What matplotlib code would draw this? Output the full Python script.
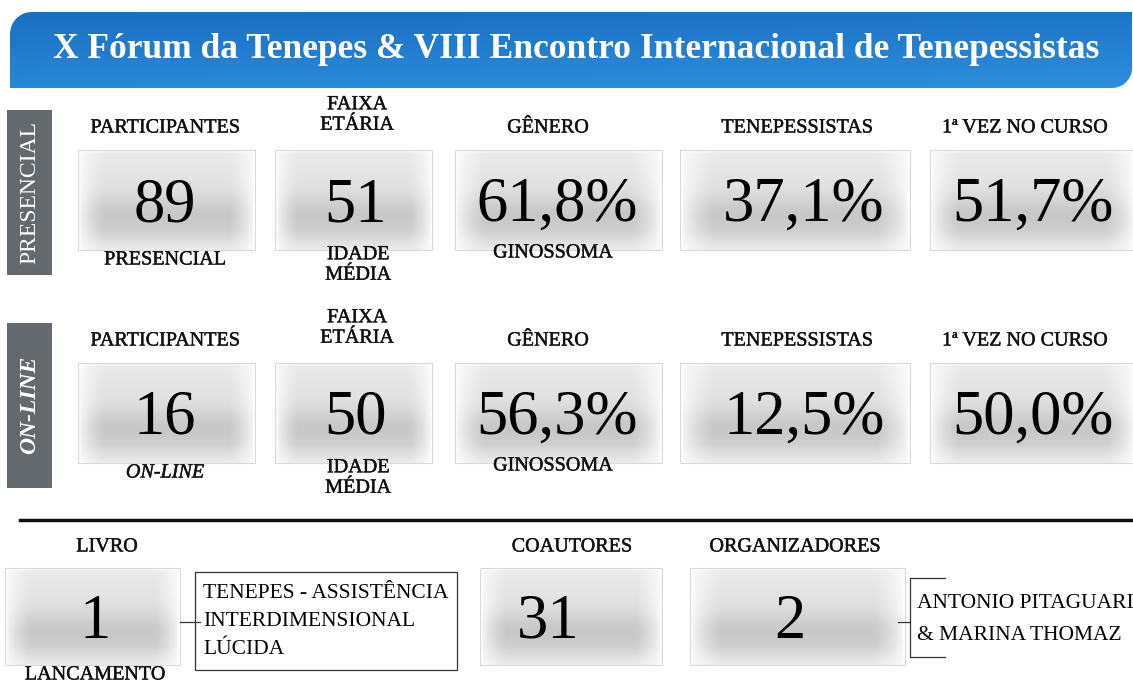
"""Infografico: X Forum da Tenepes & VIII Encontro Internacional de Tenepessistas."""
import numpy as np
import matplotlib.pyplot as plt
import matplotlib.patheffects as pe
from matplotlib.patches import Rectangle, PathPatch
from matplotlib.path import Path

# ---- dados ----
titulo = "X Fórum da Tenepes & VIII Encontro Internacional de Tenepessistas"
modalidades = ["PRESENCIAL", "ON-LINE"]
cabecalhos = ["PARTICIPANTES", "FAIXA\nETÁRIA", "GÊNERO", "TENEPESSISTAS", "1ª VEZ NO CURSO"]
participantes = [89, 16]
idade_media = [51, 50]
genero_ginossoma = [61.8, 56.3]
tenepessistas = [37.1, 12.5]
primeira_vez = [51.7, 50.0]
sub_idade = "IDADE\nMÉDIA"
sub_genero = "GINOSSOMA"

livro_qtd = 1
livro_titulo = ["TENEPES - ASSISTÊNCIA", "INTERDIMENSIONAL", "LÚCIDA"]
coautores = 31
organizadores = 2
organizadores_nomes = ["ANTONIO PITAGUARI", "& MARINA THOMAZ"]

SERIF = ["Liberation Serif", "DejaVu Serif"]
W, H = 1133, 683
LBL = 14.5   # rotulos
NUM = 45     # numeros grandes
SEMI = [pe.withStroke(linewidth=0.3, foreground="#111111")]  # rotulos meio-negrito


def pct(v):
    return f"{v:.1f}".replace(".", ",") + "%"


def label(ax, x, y, s, **kw):
    kw.setdefault("fontsize", LBL)
    kw.setdefault("ha", "center")
    ax.text(x, y, s, family=SERIF, va="center", color="#111111",
            path_effects=SEMI, zorder=3, **kw)


def grad_box(ax, x0, x1, y0, y1):
    t = np.linspace(0, 1, 80)
    v = (0.92 - 0.10 * t
         - 0.07 * np.exp(-((t - 0.64) / 0.18) ** 2)
         + 0.10 * np.clip((t - 0.82) / 0.18, 0, 1))
    v[:2] = 0.96
    s = np.linspace(0, 1, 120)
    edge = np.clip(np.minimum(s, 1 - s) / 0.14, 0, 1) ** 0.6
    img = 1 - (1 - v[:, None]) * edge[None, :]
    ax.imshow(img, cmap="gray", vmin=0, vmax=1, extent=(x0, x1, y1, y0),
              aspect="auto", interpolation="bicubic", zorder=1)
    ax.add_patch(Rectangle((x0, y0), x1 - x0, y1 - y0, fill=False,
                           ec="#dadada", lw=0.8, zorder=2))


fig = plt.figure(figsize=(W / 100, H / 100), dpi=100)
ax = fig.add_axes([0, 0, 1, 1])

# ---- faixa azul do titulo ----
r = 22
a1 = np.linspace(np.pi, 1.5 * np.pi, 20)
c1 = np.column_stack([10 + r + r * np.cos(a1), 12 + r + r * np.sin(a1)])
r2 = 20
a2 = np.linspace(0, 0.5 * np.pi, 20)
c2 = np.column_stack([1112 + r2 * np.cos(a2), 68 + r2 * np.sin(a2)])
verts = np.vstack([[[10, 88]], c1, [[1132, 12]], c2, [[10, 88]]])
banner = PathPatch(Path(verts), fc="none", ec="none")
ax.add_patch(banner)
ty = np.linspace(0, 1, 60)[:, None]
tx = np.linspace(0, 1, 200)[None, :]
top = np.array([0.10, 0.43, 0.76])
bot = np.array([0.18, 0.56, 0.87])
mix = (ty * 0.8 + 0.2 * tx)[..., None]
bimg = top * (1 - mix) + bot * mix
im = ax.imshow(bimg, extent=(8, 1134, 90, 10), aspect="auto", interpolation="bicubic", zorder=1)
im.set_clip_path(banner)
ax.text(576, 50, titulo, color="white", fontsize=25.5, fontweight="bold",
        family=SERIF, ha="center", va="center", zorder=3)

# ---- linhas presencial / on-line ----
col_x = [165, 357, 548, 797, 1025]
box_x = [(78, 255), (275, 432), (455, 662), (680, 910), (930, 1135)]
val_x = [165, 355, 557, 804, 1033]
for i, modo in enumerate(modalidades):
    dy = 213 * i
    online = modo == "ON-LINE"
    # aba lateral
    ax.add_patch(Rectangle((7, 110 + dy), 45, 165, fc="#63696d", ec="none", zorder=2))
    ax.text(30, 192 + dy, modo, rotation=90, color="white", fontsize=17,
            family=SERIF, style="italic" if online else "normal",
            fontweight="bold" if online else "normal",
            ha="center", va="center", zorder=3)
    valores = [str(participantes[i]), str(idade_media[i]), pct(genero_ginossoma[i]),
               pct(tenepessistas[i]), pct(primeira_vez[i])]
    for j, cab in enumerate(cabecalhos):
        hy = 128 + dy if "\n" not in cab else 115 + dy
        label(ax, col_x[j], hy, cab, linespacing=1.1)
        grad_box(ax, box_x[j][0], box_x[j][1], 150 + dy, 250 + dy)
        ax.text(val_x[j], 206 + dy, valores[j], fontsize=NUM, family=SERIF,
                ha="center", va="center", zorder=3)
    label(ax, 165, 260 + dy, modo, style="italic" if online else "normal")
    label(ax, 358, 265 + dy, sub_idade, linespacing=1.1)
    label(ax, 553, 253 + dy, sub_genero)

# ---- separador ----
ax.plot([20, 1133], [520, 520], color="#111111", lw=2.5, zorder=3)

# ---- livro / coautores / organizadores ----
label(ax, 107, 547, "LIVRO")
grad_box(ax, 5, 180, 568, 665)
ax.text(95, 623, str(livro_qtd), fontsize=NUM, family=SERIF, ha="center", va="center", zorder=3)
label(ax, 95, 675, "LANCAMENTO")
ax.add_patch(Rectangle((195, 572), 262, 98, fill=False, ec="#333333", lw=0.9, zorder=3))
ax.plot([180, 200], [622, 622], color="#333333", lw=0.9, zorder=3)
for k, linha in enumerate(livro_titulo):
    ax.text(203, 593 + 28 * k, linha, fontsize=15.5, family=SERIF, ha="left", va="center", zorder=3)

label(ax, 572, 547, "COAUTORES")
grad_box(ax, 480, 662, 568, 665)
ax.text(548, 623, str(coautores), fontsize=NUM, family=SERIF, ha="center", va="center", zorder=3)

label(ax, 795, 547, "ORGANIZADORES")
grad_box(ax, 690, 905, 568, 665)
ax.text(790, 623, str(organizadores), fontsize=NUM, family=SERIF, ha="center", va="center", zorder=3)
ax.plot([945, 910, 910, 945], [578, 578, 657, 657], color="#333333", lw=0.9, zorder=3)
ax.plot([898, 910], [622, 622], color="#333333", lw=0.9, zorder=3)
for k, nome in enumerate(organizadores_nomes):
    ax.text(917, 604 + 32 * k, nome, fontsize=15.5, family=SERIF, ha="left", va="center", zorder=3)

ax.set_xlim(0, W)
ax.set_ylim(H, 0)
ax.axis("off")
fig.savefig("out.png", dpi=100, facecolor="white")
